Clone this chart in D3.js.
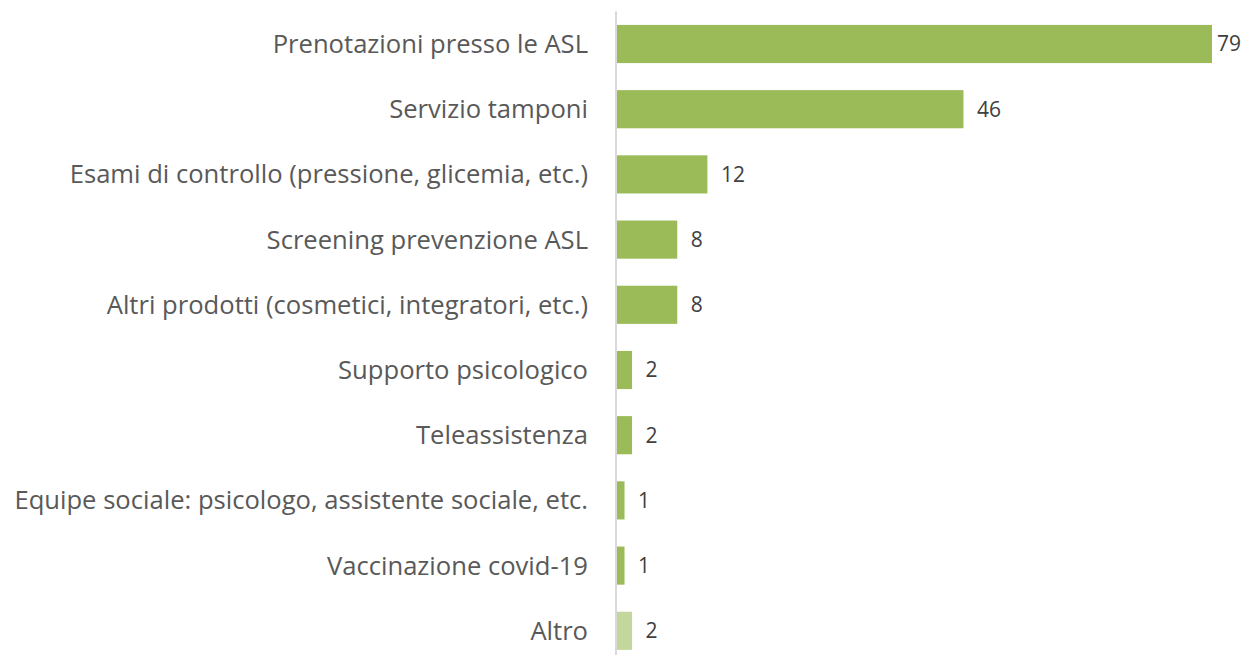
<!DOCTYPE html>
<html>
<head>
<meta charset="utf-8">
<script src="https://cdn.jsdelivr.net/npm/d3@7"></script>
<style>
  body { margin: 0; background: #fff; }
  svg { display: block; font-family: "Open Sans", "Segoe UI", sans-serif; }
</style>
</head>
<body>
<svg id="chart" width="1242" height="655"></svg>
<script>
// categories, top to bottom
var categories = [
    "Prenotazioni presso le ASL",
    "Servizio tamponi",
    "Esami di controllo (pressione, glicemia, etc.)",
    "Screening prevenzione ASL",
    "Altri prodotti (cosmetici, integratori, etc.)",
    "Supporto psicologico",
    "Teleassistenza",
    "Equipe sociale: psicologo, assistente sociale, etc.",
    "Vaccinazione covid-19",
    "Altro"
];
var values = [79, 46, 12, 8, 8, 2, 2, 1, 1, 2];
var highlight = [false, false, false, false, false, false, false, false, false, true];

var svg = d3.select("#chart");
var W = 1242;
var x0 = 616, yTop = 11.4, yBottom = 663.4;

var x = d3.scaleLinear()
    .domain([0, 79])
    .range([x0, 1211]);

var y = d3.scaleBand()
    .domain(categories)
    .range([yTop, yBottom])
    .paddingInner(0.415)
    .paddingOuter(0.2075);

var rows = svg.selectAll(".row")
    .data(categories)
    .enter()
    .append("g")
    .attr("class", "row");

//bars
rows.append("rect")
    .attr("x", x(0) + 1)
    .attr("y", function(d){return y(d);})
    .attr("width", function(d, i){return x(values[i]) - x(0);})
    .attr("height", y.bandwidth())
    .style("fill", function(d, i){return highlight[i] ? "#C3D69B" : "#9BBB59";});

//category labels
rows.append("text")
    .attr("x", x0 - 28)
    .attr("y", function(d){return y(d) + y.bandwidth()/2;})
    .attr("dy", "0.35em")
    .attr("text-anchor", "end")
    .style("font-size", "25.6px")
    .style("fill", "#595959")
    .text(function(d){return d;});

//value labels, pushed back inside the frame when too long
rows.append("text")
    .attr("y", function(d){return y(d) + y.bandwidth()/2;})
    .attr("dy", "0.35em")
    .style("font-size", "21px")
    .style("fill", "#404040")
    .text(function(d, i){return values[i];})
    .attr("x", function(d, i){
        var w = this.getComputedTextLength();
        return Math.min(x(values[i]) + 14.5, W - w - 1);
    });

//axis line
svg.append("line")
    .attr("x1", x0)
    .attr("x2", x0)
    .attr("y1", yTop)
    .attr("y2", yBottom)
    .style("stroke", "#D9D9D9")
    .style("stroke-width", "2px");
</script>
</body>
</html>
